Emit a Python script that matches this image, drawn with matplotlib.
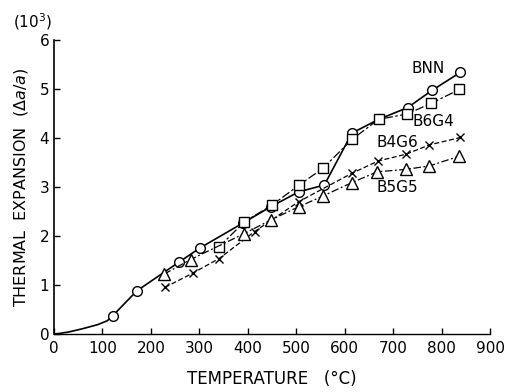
import matplotlib.pyplot as plt

# BNN: unmarked low-temperature curve, then measured points
bnn_lead_t = [0, 10, 30, 60, 90, 110, 121]
bnn_lead_e = [0.0, 0.01, 0.04, 0.11, 0.19, 0.27, 0.37]
bnn_t = [121, 171, 257, 302, 391, 448, 505, 558, 615, 670, 730, 780, 839]
bnn_e = [0.37, 0.88, 1.46, 1.76, 2.27, 2.60, 2.90, 3.04, 4.10, 4.38, 4.62, 4.97, 5.34]

b6g4_t = [340, 393, 450, 506, 555, 615, 670, 729, 779, 837]
b6g4_e = [1.77, 2.29, 2.63, 3.04, 3.38, 3.97, 4.38, 4.49, 4.71, 4.99]

b4g6_t = [229, 286, 341, 414, 505, 615, 669, 727, 775, 839]
b4g6_e = [0.95, 1.24, 1.54, 2.09, 2.70, 3.28, 3.53, 3.67, 3.86, 4.01]

b5g5_t = [227, 282, 393, 448, 506, 556, 615, 667, 727, 775, 837]
b5g5_e = [1.22, 1.52, 2.05, 2.33, 2.60, 2.82, 3.09, 3.31, 3.36, 3.43, 3.63]

x_ticks = [0, 100, 200, 300, 400, 500, 600, 700, 800, 900]
y_ticks = [0, 1, 2, 3, 4, 5, 6]

fig = plt.figure(figsize=(5.07, 3.92), dpi=100)
ax = fig.add_axes([0.1065, 0.148, 0.86, 0.75])

mk = dict(markerfacecolor="white", markeredgecolor="black", markeredgewidth=1.0, color="black")

ax.plot(bnn_lead_t, bnn_lead_e, "-", color="black", linewidth=1.2)
ax.plot(bnn_t, bnn_e, "-", marker="o", markersize=7, linewidth=1.2, **mk)
ax.plot(b6g4_t, b6g4_e, linestyle=(0, (7, 2, 2, 2)), marker="s", markersize=7, linewidth=0.9, **mk)
ax.plot(b4g6_t, b4g6_e, linestyle=(0, (4, 2)), marker="x", markersize=6, linewidth=0.9, **mk)
ax.plot(b5g5_t, b5g5_e, linestyle=(0, (6, 2, 1.5, 2)), marker="^", markersize=8, linewidth=0.9, **mk)

ax.text(773, 5.41, "BNN", ha="center", va="center", fontsize=11)
ax.text(783, 4.33, "B6G4", ha="center", va="center", fontsize=11)
ax.text(709, 3.90, "B4G6", ha="center", va="center", fontsize=11)
ax.text(709, 2.98, "B5G5", ha="center", va="center", fontsize=11)

ax.set_xlim(0, 900)
ax.set_ylim(0, 6)
ax.set_xticks(x_ticks)
ax.set_yticks(y_ticks)
ax.tick_params(direction="in", length=4, labelsize=11, width=1)
ax.tick_params(axis="x", pad=5)
ax.spines["top"].set_visible(False)
ax.spines["right"].set_visible(False)
ax.spines["left"].set_linewidth(1.2)
ax.spines["bottom"].set_linewidth(1.0)

ax.set_xlabel("TEMPERATURE   (°C)", fontsize=12, labelpad=10)
ax.set_ylabel(r"THERMAL  EXPANSION  ($\Delta a/a$)", fontsize=11.5, labelpad=7)
fig.text(0.065, 0.945, r"(10$^3$)", ha="center", va="center", fontsize=11)

fig.savefig("out.png", dpi=100)
